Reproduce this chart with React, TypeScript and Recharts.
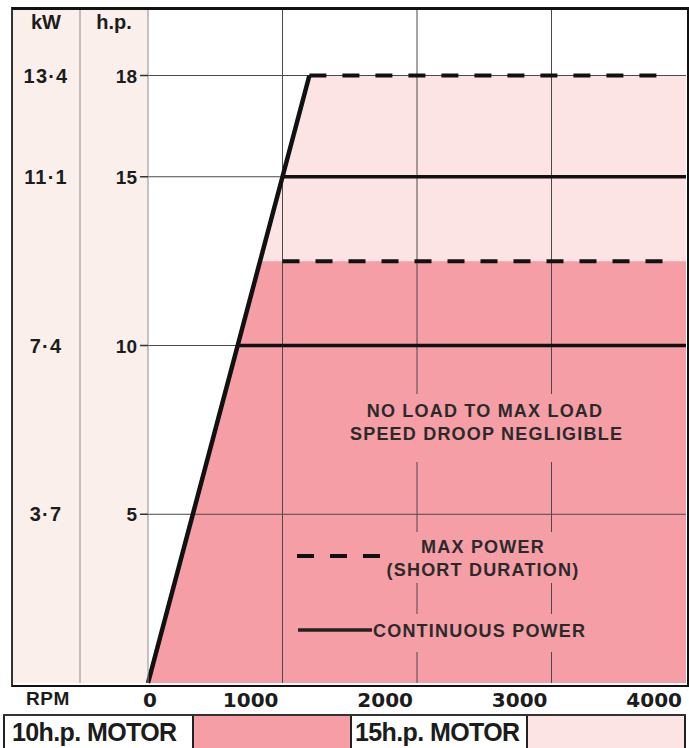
import {
  Area,
  ComposedChart,
  Line,
  ReferenceLine,
  XAxis,
  YAxis,
} from 'recharts'

// RPM break points
const rpm = [0, 667, 833, 1000, 1200, 3850, 4000]
// ramp from standstill up to full max power
const ramp = [0, null, null, null, 18, null, null]
// continuous power, 10 h.p. and 15 h.p. motors
const cont10 = [null, 10, null, null, null, null, 10]
const cont15 = [null, null, null, 15, null, null, 15]
// max power (short duration)
const max10 = [null, null, null, 12.5, null, 12.5, null]
const max15 = [null, null, null, null, 18, 18, null]
// shaded operating regions
const fill10 = [0, null, 12.5, null, null, null, 12.5]
const fill15 = [0, null, null, null, 18, null, 18]

const rpmTicks = [0, 1000, 2000, 3000, 4000]
const hpTicks = [5, 10, 15, 18]
const kwLabels = ['3·7', '7·4', '11·1', '13·4']

const table = rpm.map((r, i) => ({
  rpm: r,
  ramp: ramp[i],
  cont10: cont10[i],
  cont15: cont15[i],
  max10: max10[i],
  max15: max15[i],
  fill10: fill10[i],
  fill15: fill15[i],
}))

const DARK = '#f59ea6'
const LIGHT = '#fce3e4'
const COL = '#fbefec'
const INK = '#1c1c1c'
const bold = { fontFamily: '"Liberation Sans", Arial, sans-serif', fontWeight: 700 }

function XTick(props: any) {
  const { x, y, payload } = props
  const zero = payload.value === 0
  return (
    <text x={zero ? x + 2 : x - 4} y={y} dy={24} textAnchor={zero ? 'middle' : 'end'}
      fill={INK} fontSize={20} fontWeight={700} fontFamily='"DejaVu Sans", sans-serif'>
      {payload.value}
    </text>
  )
}

function HpTick(props: any) {
  const { x, y, payload } = props
  return (
    <text x={x} y={y} dy={7} textAnchor="end" fill={INK} fontSize={19} {...bold}>
      {payload.value}
    </text>
  )
}

function KwTick(props: any) {
  const { x, y, payload } = props
  const label = kwLabels[hpTicks.indexOf(payload.value)]
  return (
    <text x={x - 34} y={y} dy={7} textAnchor="middle" fill={INK} fontSize={20} letterSpacing={1.2} {...bold}>
      {label}
    </text>
  )
}

const note: React.CSSProperties = {
  position: 'absolute',
  ...bold,
  fontSize: 18,
  letterSpacing: 1.2,
  lineHeight: '23px',
  color: '#2a2a2a',
  background: DARK,
  whiteSpace: 'nowrap',
}

export default function App() {
  return (
    <div style={{ position: 'absolute', left: 0, top: 0, width: 689, height: 748, background: '#fff', overflow: 'hidden' }}>
      {/* kW / h.p. columns */}
      <div style={{ position: 'absolute', left: 12, top: 9, width: 136, height: 674, background: COL }} />

      <div style={{ position: 'absolute', left: 0, top: 0 }}>
        <ComposedChart width={689} height={712} data={table} margin={{ top: 8, right: 3, left: 12, bottom: 0 }}>
          <XAxis dataKey="rpm" type="number" domain={[0, 4000]} ticks={rpmTicks} tick={<XTick />}
            tickLine={false} axisLine={false} tickSize={0} tickMargin={0} height={29} interval={0} />
          <YAxis domain={[0, 20]} ticks={hpTicks} tick={<HpTick />} width={68} tickSize={8} tickMargin={3}
            tickLine={{ stroke: '#333', strokeWidth: 1.5 }} axisLine={{ stroke: '#8a8a8a' }} interval={0} />
          <YAxis yAxisId="kw" domain={[0, 20]} ticks={hpTicks} tick={<KwTick />} width={68}
            tickLine={false} tickSize={0} tickMargin={0} axisLine={{ stroke: '#8a8a8a' }} interval={0} />

          <Area yAxisId="kw" dataKey="fill15" type="linear" fill={LIGHT} fillOpacity={1} stroke="none" connectNulls baseValue={0} isAnimationActive={false} />
          <Area yAxisId="kw" dataKey="fill10" type="linear" fill={DARK} fillOpacity={1} stroke="none" connectNulls baseValue={0} isAnimationActive={false} />

          {rpmTicks.slice(1, 4).map((v) => (
            <ReferenceLine key={'x' + v} x={v} stroke="#4a4a4a" strokeWidth={1} />
          ))}
          {hpTicks.map((v) => (
            <ReferenceLine key={'y' + v} y={v} stroke="#4a4a4a" strokeWidth={1} />
          ))}

          <Line dataKey="ramp" type="linear" stroke="#111" strokeWidth={4.5} dot={false} connectNulls isAnimationActive={false} />
          <Line dataKey="cont10" type="linear" stroke="#111" strokeWidth={3.5} dot={false} connectNulls isAnimationActive={false} />
          <Line dataKey="cont15" type="linear" stroke="#111" strokeWidth={3.5} dot={false} connectNulls isAnimationActive={false} />
          <Line dataKey="max10" type="linear" stroke="#111" strokeWidth={4} strokeDasharray="17 16" dot={false} connectNulls isAnimationActive={false} />
          <Line dataKey="max15" type="linear" stroke="#111" strokeWidth={4} strokeDasharray="17 16" dot={false} connectNulls isAnimationActive={false} />
        </ComposedChart>
      </div>

      {/* frame */}
      <div style={{ position: 'absolute', left: 11, top: 7, width: 674, height: 675, borderTop: '3px solid #111', borderLeft: '2px solid #333', borderRight: '2px solid #111', borderBottom: '2px solid #111', pointerEvents: 'none' }} />

      <div style={{ position: 'absolute', left: 12, width: 68, top: 11, textAlign: 'center', ...bold, fontSize: 20, color: INK }}>kW</div>
      <div style={{ position: 'absolute', left: 80, width: 68, top: 11, textAlign: 'center', ...bold, fontSize: 20, color: INK }}>h.p.</div>
      <div style={{ position: 'absolute', left: 26, top: 688, ...bold, fontSize: 19, letterSpacing: 0.5, color: INK }}>RPM</div>

      {/* annotations and key */}
      <div style={{ ...note, left: 350, top: 394, width: 270, height: 68, paddingTop: 5.5, boxSizing: 'border-box', textAlign: 'center' }}>
        NO LOAD TO MAX LOAD<br />SPEED DROOP NEGLIGIBLE
      </div>
      <div style={{ ...note, left: 380, top: 532, width: 206, height: 51, paddingTop: 3.5, boxSizing: 'border-box', textAlign: 'center' }}>
        MAX POWER<br />(SHORT DURATION)
      </div>
      <div style={{ ...note, left: 373, top: 614, width: 225, height: 38, paddingTop: 5.5, boxSizing: 'border-box' }}>
        CONTINUOUS POWER
      </div>
      <svg style={{ position: 'absolute', left: 290, top: 545, overflow: 'visible' }} width={100} height={100}>
        <line x1={7} y1={11} x2={90} y2={11} stroke="#111" strokeWidth={4} strokeDasharray="17 16" />
        <line x1={8} y1={85} x2={82} y2={85} stroke="#222" strokeWidth={3.5} />
      </svg>

      {/* motor key strip */}
      <div style={{ position: 'absolute', left: 3, top: 714, width: 683, height: 34, display: 'flex', borderTop: '2px solid #333', boxSizing: 'border-box' }}>
        <div style={{ width: 192, borderLeft: '2px solid #222', borderRight: '2px solid #222', background: '#fff', ...bold, fontSize: 25, letterSpacing: -0.6, lineHeight: '32px', paddingLeft: 7, boxSizing: 'border-box', color: INK, whiteSpace: 'nowrap' }}>10h.p. MOTOR</div>
        <div style={{ width: 156, background: DARK }} />
        <div style={{ width: 179, borderLeft: '2px solid #222', borderRight: '2px solid #222', background: '#fff', ...bold, fontSize: 25, letterSpacing: -0.6, lineHeight: '32px', paddingLeft: 3, boxSizing: 'border-box', color: INK, whiteSpace: 'nowrap' }}>15h.p. MOTOR</div>
        <div style={{ width: 156, background: LIGHT, borderRight: '2px solid #222' }} />
      </div>
    </div>
  )
}
